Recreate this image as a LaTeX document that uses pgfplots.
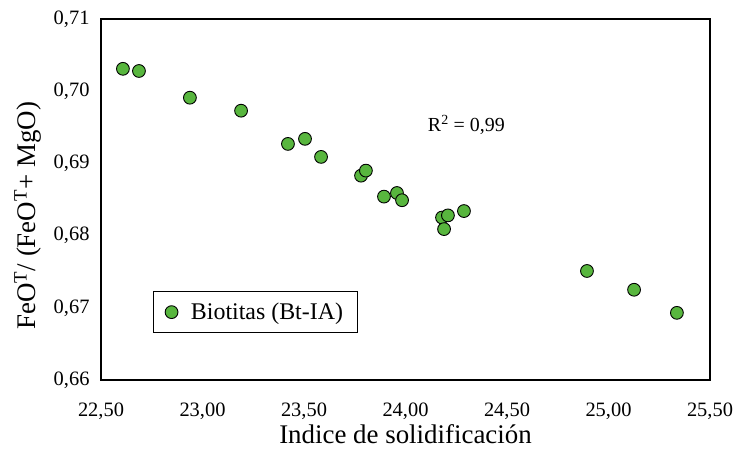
\documentclass[border=0pt]{standalone}
\usepackage{pgfplots}
\pgfplotsset{compat=1.18}
\usepackage{fontspec}
\setmainfont{Liberation Serif}
\definecolor{ptgreen}{RGB}{88,182,62}
\pgfplotstableread{
x y
22.608 0.7031
22.687 0.7028
22.938 0.6991
23.190 0.6973
23.421 0.6927
23.505 0.6934
23.584 0.6909
23.781 0.6883
23.805 0.6890
23.894 0.6854
23.958 0.6859
23.983 0.6849
24.180 0.6825
24.209 0.6828
24.190 0.6809
24.288 0.6834
24.894 0.6751
25.126 0.6725
25.337 0.6693
}\biotitas
\begin{document}
\begin{tikzpicture}
\path[use as bounding box] (0,0) rectangle (734bp,450bp);
\begin{axis}[
  at={(101bp,70bp)}, anchor=south west, scale only axis,
  width=609bp, height=361bp,
  xmin=22.5, xmax=25.5, ymin=0.66, ymax=0.71,
  xtick={22.5,23,23.5,24,24.5,25,25.5},
  ytick={0.66,0.67,0.68,0.69,0.70,0.71},
  major tick length=0pt,
  axis line style={line width=1.6bp},
  tick label style={font=\fontsize{20.5}{24}\selectfont},
  xticklabel style={yshift=-19bp, /pgf/number format/.cd, use comma, fixed, fixed zerofill, precision=2, assume math mode=true},
  yticklabel style={xshift=-8bp, /pgf/number format/.cd, use comma, fixed, fixed zerofill, precision=2, assume math mode=true},
  scaled ticks=false,
  xlabel={Indice de solidificación},
  ylabel={FeO\textsuperscript{T}/ (FeO\textsuperscript{T}+ MgO)},
  xlabel style={font=\fontsize{27}{31}\selectfont, at={(axis description cs:0.5,0)}, anchor=center, yshift=-54bp},
  ylabel style={font=\fontsize{27}{31}\selectfont, at={(axis description cs:-0.1199,0.455)}, anchor=center},
  legend style={at={(rel axis cs:0.085,0.13)}, anchor=south west, draw=black, line width=0.8bp,
    font=\fontsize{24}{28}\selectfont, inner xsep=12bp, inner ysep=9.5bp},
  legend cell align=left,
]
\addplot[only marks, mark=*, mark size=6.4bp, mark options={fill=ptgreen, draw=black, line width=0.9bp}] table[x=x,y=y] {\biotitas};
\addlegendentry{\hspace{11bp}Biotitas (Bt-IA)}
\node[font=\fontsize{20}{24}\selectfont] at (axis cs:24.30,0.6953) {R\textsuperscript{2} = 0,99};
\end{axis}
\end{tikzpicture}
\end{document}
